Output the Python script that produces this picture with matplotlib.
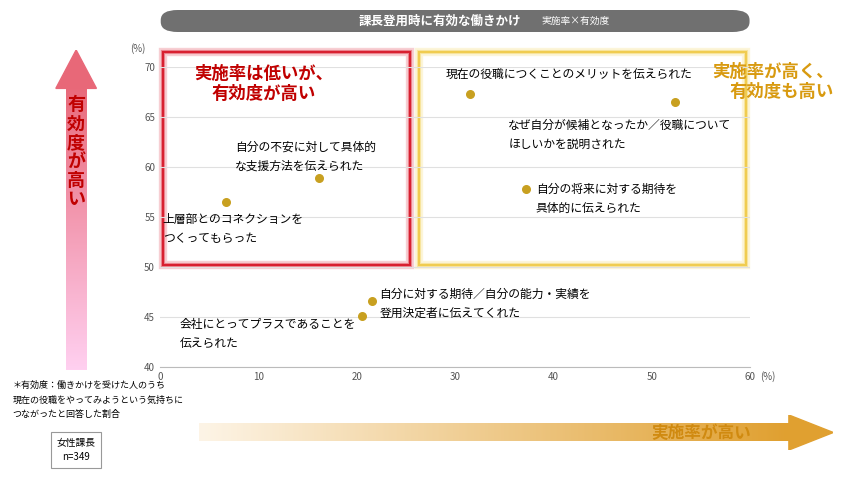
import numpy as np
import matplotlib.pyplot as plt
from matplotlib.patches import Rectangle, FancyBboxPatch
from matplotlib.colors import LinearSegmentedColormap

plt.rcParams['font.family'] = 'Noto Sans CJK JP'

# data
rates = [6.7, 16.2, 31.5, 52.3, 37.2, 21.6, 20.5]
effects = [56.5, 58.9, 67.3, 66.5, 57.8, 46.6, 45.1]
labels = ['上層部とのコネクションを\nつくってもらった',
          '自分の不安に対して具体的\nな支援方法を伝えられた',
          '現在の役職につくことのメリットを伝えられた',
          'なぜ自分が候補となったか／役職について\nほしいかを説明された',
          '自分の将来に対する期待を\n具体的に伝えられた',
          '自分に対する期待／自分の能力・実績を\n登用決定者に伝えてくれた',
          '会社にとってプラスであることを\n伝えられた']
label_pos = [(0.3, 53.8), (7.6, 61.0), (29.0, 69.3), (35.4, 63.2), (38.2, 56.8), (22.3, 46.3), (2.0, 43.3)]

fig = plt.figure(figsize=(8.46, 5.0), dpi=100)
ax = fig.add_axes([0.189, 0.266, 0.698, 0.6])
ax.set_xlim(0, 60)
ax.set_ylim(40, 70)
ax.set_xticks(range(0, 61, 10))
ax.set_yticks(range(40, 71, 5))
ax.grid(axis='y', color='#e0e0e0', lw=0.8)
for s in ['top', 'right', 'left']:
    ax.spines[s].set_visible(False)
ax.spines['bottom'].set_color('#bbbbbb')
ax.tick_params(length=0, labelsize=7, colors='#555555')
ax.text(-1.5, 71.5, '(%)', fontsize=7, color='#555555', ha='right')
ax.text(61, 39.6, '(%)', fontsize=7, color='#555555', va='top')

ax.scatter(rates, effects, s=30, color='#c8a020', zorder=3)
for (lx, ly), t in zip(label_pos, labels):
    ax.text(lx, ly, t, fontsize=8.5, ha='left', va='center', linespacing=1.6)

# highlight boxes
for lw, a in [(6, 0.25), (3, 0.5)]:
    ax.add_patch(Rectangle((0.3, 50.2), 25.1, 21.3, fill=False, ec='#e04050', lw=lw, alpha=a, clip_on=False))
    ax.add_patch(Rectangle((26.3, 50.2), 33.3, 21.3, fill=False, ec='#f5d86a', lw=lw, alpha=a, clip_on=False))
ax.add_patch(Rectangle((0.3, 50.2), 25.1, 21.3, fill=False, ec='#d82030', lw=1.5, clip_on=False))
ax.add_patch(Rectangle((26.3, 50.2), 33.3, 21.3, fill=False, ec='#f0cc50', lw=1.5, clip_on=False))
ax.text(10.5, 68.3, '実施率は低いが、\n有効度が高い', fontsize=12.5, color='#c00000', fontweight='bold', ha='center', va='center')
ax.text(68.5, 68.5, '実施率が高く、\n有効度も高い', fontsize=12.5, color='#d89a10', fontweight='bold',
        ha='right', va='center', clip_on=False)

# title bar
fig.patches.append(FancyBboxPatch((0.19, 0.936), 0.696, 0.044, boxstyle='round,pad=0,rounding_size=0.02',
                                  transform=fig.transFigure, fc='#707070', ec='none'))
fig.text(0.52, 0.958, '課長登用時に有効な働きかけ', color='white', fontsize=9, fontweight='bold', ha='center', va='center')
fig.text(0.68, 0.958, '実施率×有効度', color='white', fontsize=7, ha='center', va='center')

# vertical gradient arrow
vax = fig.add_axes([0.06, 0.26, 0.06, 0.64])
vax.axis('off')
vax.set_xlim(0, 1)
vax.set_ylim(0, 1)
vcm = LinearSegmentedColormap.from_list('v', ['#ffd0f0', '#e86878'])
grad = np.linspace(0, 1, 200).reshape(-1, 1)
vax.imshow(grad, cmap=vcm, extent=[0.3, 0.7, 0, 0.9], origin='lower', aspect='auto')
vax.fill([0.1, 0.9, 0.5], [0.88, 0.88, 1.0], color='#e86878')
vax.text(0.5, 0.68, '有\n効\n度\nが\n高\nい', color='#c00000', fontsize=13, fontweight='bold',
         ha='center', va='center', linespacing=1.0)

# horizontal gradient arrow
hax = fig.add_axes([0.235, 0.1, 0.75, 0.07])
hax.axis('off')
hax.set_xlim(0, 1)
hax.set_ylim(0, 1)
hcm = LinearSegmentedColormap.from_list('h', ['#fdf4e6', '#e0a030'])
hax.imshow(np.linspace(0, 1, 200).reshape(1, -1), cmap=hcm, extent=[0, 0.93, 0.25, 0.75], aspect='auto')
hax.fill([0.93, 0.93, 1.0], [0.0, 1.0, 0.5], color='#e0a030')
hax.text(0.87, 0.5, '実施率が高い', color='#d08a10', fontsize=12, fontweight='bold', ha='right', va='center')

# notes
fig.text(0.015, 0.2, '＊有効度：働きかけを受けた人のうち\n現在の役職をやってみようという気持ちに\nつながったと回答した割合',
         fontsize=6.5, va='center', ha='left', linespacing=1.8)
fig.text(0.09, 0.1, '女性課長\nn=349', fontsize=7, ha='center', va='center', linespacing=1.6,
         bbox=dict(fc='white', ec='#999999', lw=0.8, pad=4))

fig.savefig('out.png', dpi=100)
